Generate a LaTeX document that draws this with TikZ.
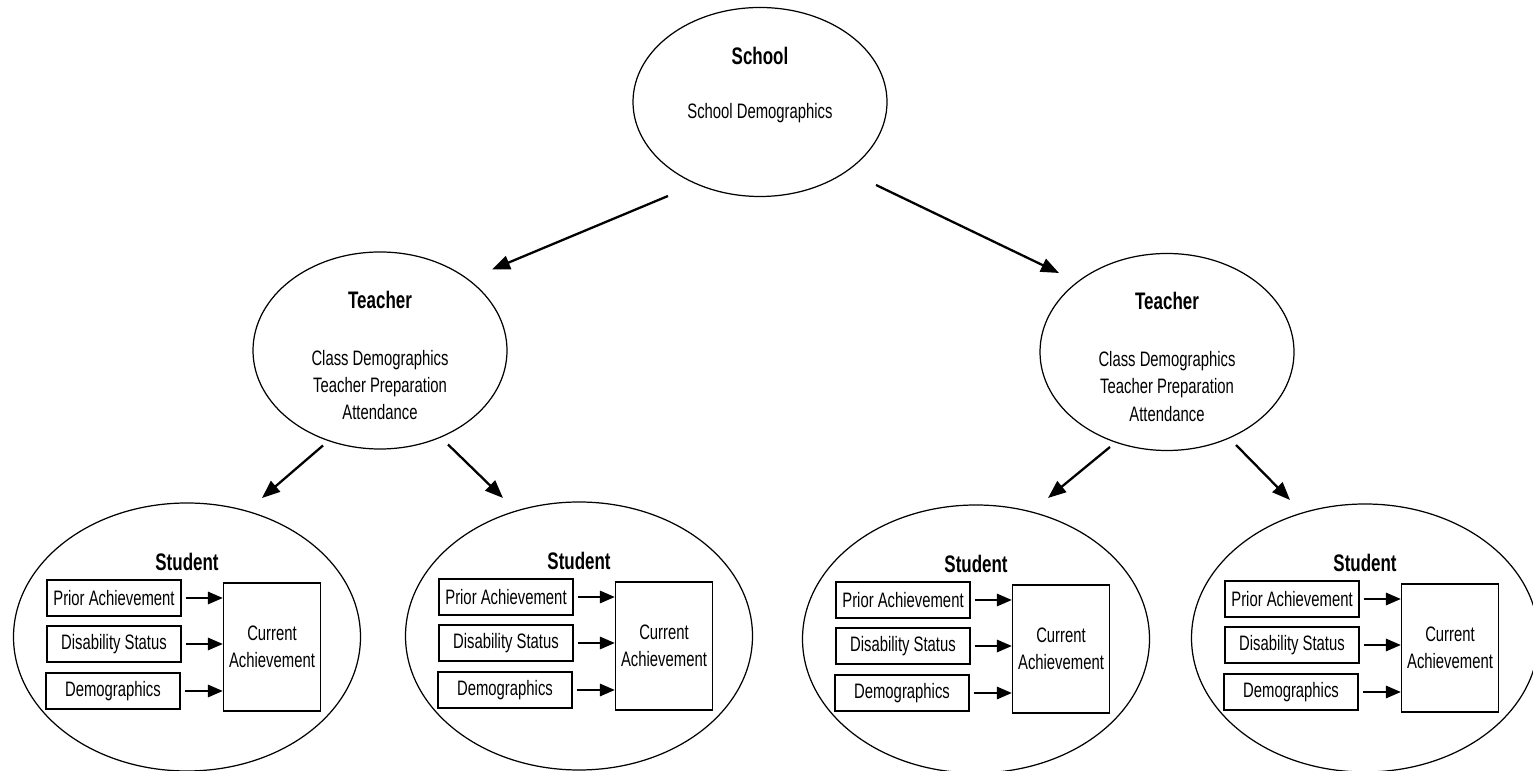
\documentclass[tikz,border=0pt]{standalone}
\usepackage{fontspec}
\setmainfont{Liberation Sans}[FakeStretch=0.71]
\usetikzlibrary{shapes.geometric,arrows.meta}
\tikzstyle{oval}=[draw, ellipse, line width=0.7pt, inner sep=0pt]
\tikzstyle{school_oval}=[oval, minimum width=5.08cm, minimum height=3.78cm]
\tikzstyle{teacher_oval}=[oval, minimum width=5.08cm, minimum height=3.94cm]
\tikzstyle{student_oval}=[oval, minimum width=6.94cm, minimum height=5.36cm]
\tikzstyle{factor}=[draw, line width=0.8pt, minimum width=2.68cm,
    minimum height=0.72cm, inner sep=0pt, text centered]
\tikzstyle{outcome}=[draw, line width=0.8pt, minimum width=1.94cm,
    minimum height=2.56cm, inner sep=0pt, align=center]
\tikzstyle{heading}=[font=\fontsize{13.6}{15}\selectfont\bfseries]
\tikzstyle{itemtext}=[font=\fontsize{11.9}{15.4}\selectfont, align=center]
\tikzstyle{link}=[draw, line width=1.3pt, -{Triangle[length=0.36cm, width=0.28cm]}]
\tikzstyle{sublink}=[draw, line width=1pt, shorten <=0.08cm,
    -{Triangle[length=0.3cm, width=0.25cm]}]
\begin{document}
\begin{tikzpicture}[every node/.style={font=\fontsize{11.9}{15.4}\selectfont}]
    \useasboundingbox (0,0) rectangle (30.66,15.42);
    % school level
    \node (school) [school_oval] at (15.2,13.38) {};
    \path (school)+(0,0.92) node [heading] {School};
    \path (school)+(0,-0.22) node [itemtext] {School Demographics};
    % teacher level
    \node (tchL) [teacher_oval] at (7.6,8.41) {};
    \node (tchR) [teacher_oval] at (23.34,8.38) {};
    \foreach \t in {tchL,tchR} {
      \path (\t)+(0,1.02) node [heading] {Teacher};
      \path (\t)+(0,-0.69) node [itemtext]
      {Class Demographics\\Teacher Preparation\\Attendance};
    }
    % student level
    \foreach \n/\x/\y in {1/3.74/2.68, 2/11.58/2.70, 3/19.52/2.64, 4/27.30/2.66} {
      \node (stu\n) [student_oval] at (\x,\y) {};
      \path (stu\n)+(0,1.5) node [heading] {Student};
      \path (stu\n)+(-1.46,0.78) node (prior\n) [factor] {Prior Achievement};
      \path (stu\n)+(-1.46,-0.14) node (dis\n) [factor] {Disability Status};
      \path (stu\n)+(-1.48,-1.08) node (demo\n) [factor] {Demographics};
      \path (stu\n)+(1.7,-0.2) node (cur\n) [outcome] {Current\\Achievement};
      \foreach \f in {prior,dis,demo}
        \path [sublink] (\f\n.east) -- (cur\n.west |- \f\n);
    }
    % arrow ends
    \path (school)+(-1.84,-1.88) coordinate (schL);
    \path (school)+(2.32,-1.66) coordinate (schR);
    \path (tchL)+(2.24,1.62) coordinate (tchLin);
    \path (tchR)+(-2.16,1.58) coordinate (tchRin);
    \path (tchL)+(-1.14,-1.9) coordinate (tchL1);
    \path (tchL)+(1.36,-1.88) coordinate (tchL2);
    \path (tchR)+(-1.14,-1.9) coordinate (tchR1);
    \path (tchR)+(1.38,-1.86) coordinate (tchR2);
    \path (stu1)+(1.5,2.78) coordinate (stu1in);
    \path (stu2)+(-1.52,2.76) coordinate (stu2in);
    \path (stu3)+(1.44,2.82) coordinate (stu3in);
    \path (stu4)+(-1.5,2.76) coordinate (stu4in);
    \path [link] (schL) -- (tchLin);
    \path [link] (schR) -- (tchRin);
    \path [link] (tchL1) -- (stu1in);
    \path [link] (tchL2) -- (stu2in);
    \path [link] (tchR1) -- (stu3in);
    \path [link] (tchR2) -- (stu4in);
\end{tikzpicture}
\end{document}
